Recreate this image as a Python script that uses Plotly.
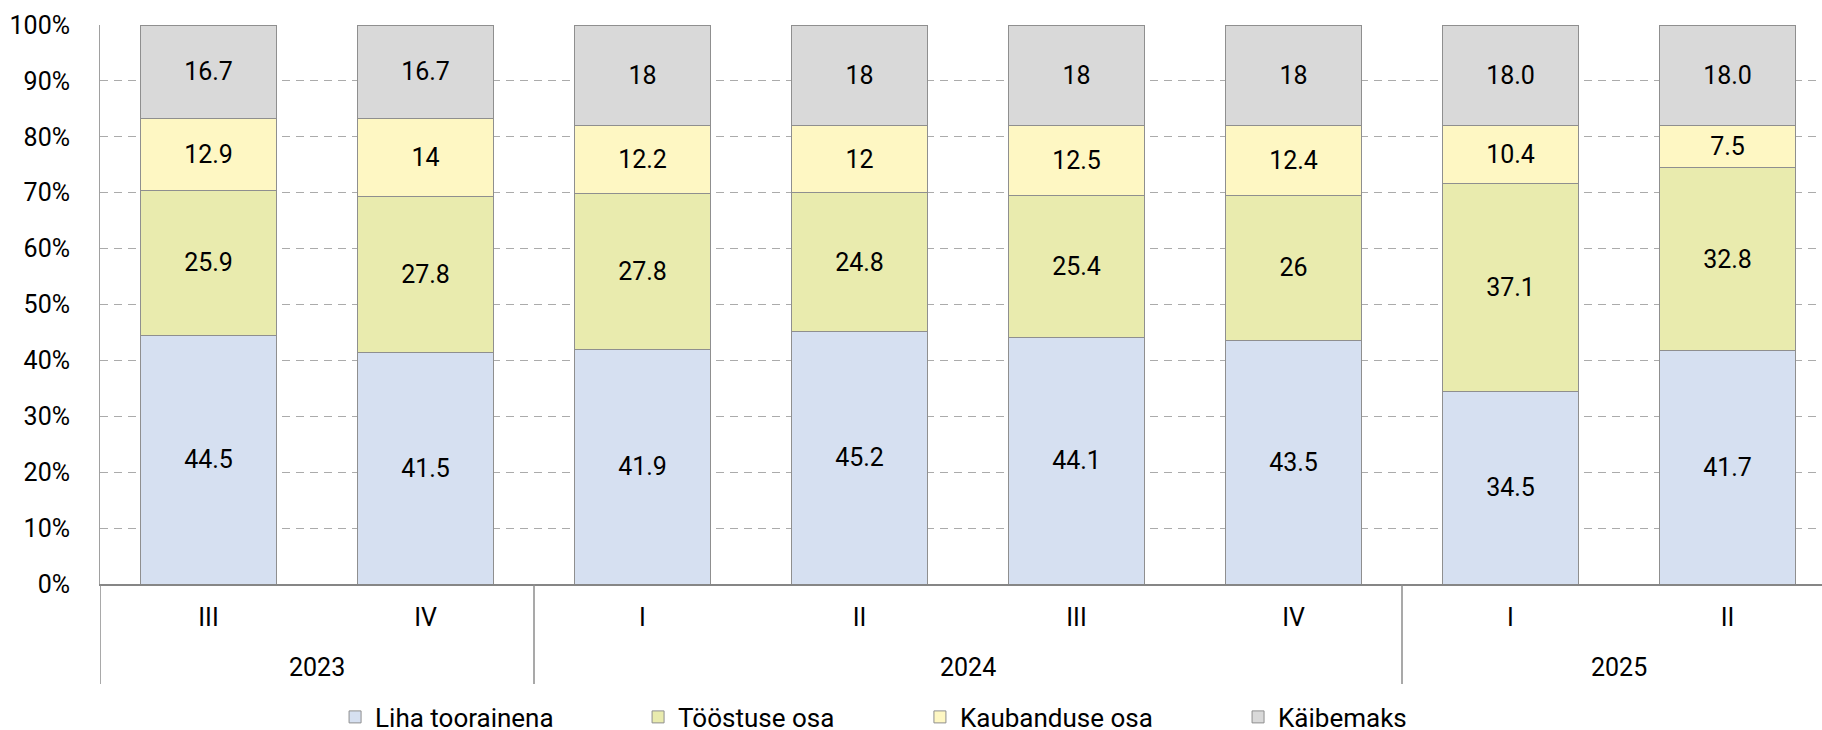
import plotly.graph_objects as go

# quarters and years of the x axis
quarters = ["III", "IV", "I", "II", "III", "IV", "I", "II"]
years = ["2023", "2023", "2024", "2024", "2024", "2024", "2025", "2025"]

series_names = ["Liha toorainena", "Tööstuse osa", "Kaubanduse osa", "Käibemaks"]
liha = [44.5, 41.5, 41.9, 45.2, 44.1, 43.5, 34.5, 41.7]
toostus = [25.9, 27.8, 27.8, 24.8, 25.4, 26, 37.1, 32.8]
kaubandus = [12.9, 14, 12.2, 12, 12.5, 12.4, 10.4, 7.5]
kaibemaks = [16.7, 16.7, 18, 18, 18, 18, 18.0, 18.0]
# labels as printed on the bars
liha_txt = ["44.5", "41.5", "41.9", "45.2", "44.1", "43.5", "34.5", "41.7"]
toostus_txt = ["25.9", "27.8", "27.8", "24.8", "25.4", "26", "37.1", "32.8"]
kaubandus_txt = ["12.9", "14", "12.2", "12", "12.5", "12.4", "10.4", "7.5"]
kaibemaks_txt = ["16.7", "16.7", "18", "18", "18", "18", "18.0", "18.0"]
y_ticks = list(range(0, 101, 10))

colors = ["#D6E0F1", "#E9EBAE", "#FEF7C3", "#D9D9D9"]
legend_x = [0.1839, 0.3502, 0.5049, 0.6795]  # container fraction

FONT = "Roboto"
W, H = 1822, 730
x = list(range(len(quarters)))

fig = go.Figure()
data = [(liha, liha_txt), (toostus, toostus_txt), (kaubandus, kaubandus_txt), (kaibemaks, kaibemaks_txt)]
for i, (vals, txt) in enumerate(data):
    fig.add_trace(go.Bar(x=x, y=vals, name=series_names[i], text=txt,
                         textposition="inside", insidetextanchor="middle", textangle=0,
                         textfont=dict(family=FONT, size=25, color="black"),
                         marker=dict(color=colors[i], line=dict(color="#8F8F8F", width=1)),
                         legend=f"legend{i+2}"))

fig.update_layout(barmode="stack", barnorm="percent", bargap=0.373,
                  width=W, height=H, plot_bgcolor="white", paper_bgcolor="white",
                  margin=dict(l=100, r=0, t=25, b=146),
                  font=dict(family=FONT, size=25, color="black"),
                  uniformtext=dict(minsize=25, mode="show"))

# one legend per series so the spacing follows the reference
for i in range(len(series_names)):
    fig.update_layout({f"legend{i+2}": dict(orientation="h", xref="container", yref="container",
                                            x=legend_x[i], y=1 - 717 / H, xanchor="left", yanchor="middle",
                                            font=dict(family=FONT, size=26, color="black"),
                                            bgcolor="rgba(0,0,0,0)", borderwidth=0)})

fig.update_yaxes(range=[0, 100], tickvals=y_ticks, ticktext=[f"{v}%" for v in y_ticks],
                 tickfont=dict(family=FONT, size=25, color="black"),
                 showgrid=True, gridcolor="#ABABAB", griddash="8px,6px", gridwidth=1,
                 showline=True, linecolor="#A0A0A0", linewidth=1, ticks="",
                 ticklabelstandoff=24, zeroline=False)
fig.update_xaxes(range=[-0.5, 7.5 - 14 / 217], tickvals=x, ticktext=quarters,
                 tickfont=dict(family=FONT, size=25, color="black"),
                 showline=True, linecolor="#868686", linewidth=2, ticks="",
                 ticklabelstandoff=10, showgrid=False, zeroline=False)

# year group labels and separators
plot_h = H - 25 - 146
groups = []
for i, yr in enumerate(years):
    if not groups or groups[-1][0] != yr:
        groups.append([yr, i, i])
    else:
        groups[-1][2] = i
for yr, a, b in groups:
    fig.add_annotation(x=(a + b) / 2, y=-(667 - 584) / plot_h, xref="x", yref="paper",
                       text=yr, showarrow=False, yanchor="middle",
                       font=dict(family=FONT, size=25, color="black"))
    fig.add_shape(type="line", xref="x", yref="paper", x0=a - 0.5, x1=a - 0.5,
                  y0=0, y1=-(684 - 584) / plot_h, line=dict(color="#8C8C8C", width=1.5))

fig.write_html("out.html", config={"displayModeBar": False},
               post_script="document.body.style.margin='0';")
